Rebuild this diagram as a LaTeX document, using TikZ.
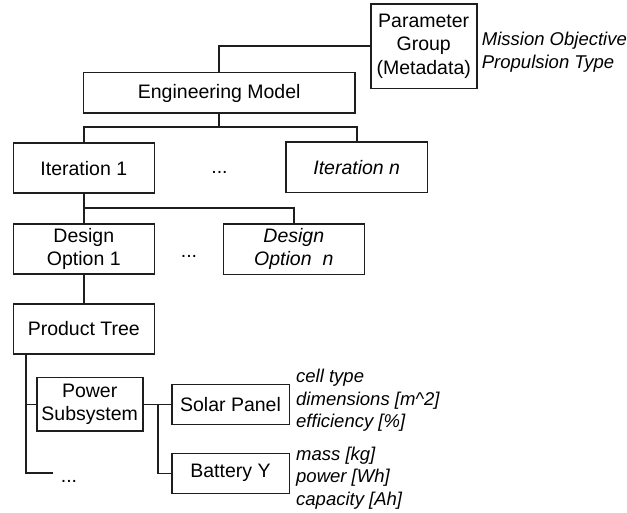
\documentclass[tikz,border=0pt]{standalone}
\usepackage{fontspec}
\setmainfont{Liberation Sans}
\definecolor{lncol}{RGB}{30,30,30}
\begin{document}
\begin{tikzpicture}[x=1pt,y=-1pt,
  ln/.style={line width=1.6pt,draw=lncol},
  box/.style={ln,rectangle,inner sep=0pt,align=center,
    font=\fontsize{19.5}{23.5}\selectfont},
  lbl/.style={inner sep=0pt,anchor=base west,align=left,
    font=\fontsize{18.5}{22.7}\selectfont\itshape},
  dots/.style={inner sep=0pt,anchor=base,font=\fontsize{19.5}{23.5}\selectfont}]
\useasboundingbox (0,0) rectangle (627,513);

% boxes
\node[box,minimum width=106pt,minimum height=84.3pt] (pg) at (423.7,46.2) {Parameter\\Group\\(Metadata)};
\node[box,minimum width=271.7pt,minimum height=40.6pt] (em) at (219.2,93) {Engineering Model};
\node[box,minimum width=141pt,minimum height=50pt] (it1) at (83.8,168.3) {Iteration 1};
\node[box,minimum width=141.3pt,minimum height=50.3pt] (itn) at (356.7,167.2) {\itshape Iteration n};
\node[box,minimum width=141pt,minimum height=50pt] (do1) at (83.8,249) {Design\\Option 1};
\node[box,minimum width=141pt,minimum height=50.3pt] (don) at (293.8,249.2) {\itshape Design\\\itshape Option\ \ n};
\node[box,minimum width=141pt,minimum height=50pt] (pt) at (83.8,329) {Product Tree};
\node[box,minimum width=106pt,minimum height=53.3pt] (ps) at (89.7,404.3) {Power\\Subsystem};
\node[box,minimum width=117.6pt,minimum height=40pt] (sp) at (230.5,404.3) {Solar Panel};
\node[box,minimum width=117.6pt,minimum height=40pt] (by) at (230.5,473.3) {Battery Y};

% labels (anchored at baseline of last line)
\node[lbl] (pgl) at (481.7,68.5) {Mission Objective\\Propulsion Type};
\node[lbl] (spl) at (296,427.7) {cell type\\dimensions [m\^{}2]\\efficiency [\%]};
\node[lbl] (byl) at (296,505.5) {mass [kg]\\power [Wh]\\capacity [Ah]};

% dots
\node[dots] (d1) at (219.5,174) {...};
\node[dots] (d2) at (189,257.5) {...};
\node[dots] (d3) at (69,482) {...};

% helper coordinates
\coordinate (b1) at (219.2,127);
\coordinate (b2) at (84,208.3);
\coordinate (tr) at (25.7,354);
\coordinate (te) at (52.7,473);
\coordinate (j) at (157.7,404.3);

% connectors
\draw[ln] (pg.west) -| (em.north);
\draw[ln] (em.south) -- (em.south |- b1);
\draw[ln] (it1.north) -- (it1.north |- b1) -| (itn.north);
\draw[ln] (it1.south) -- (do1.north);
\draw[ln] (it1.south |- b2) -| (don.north);
\draw[ln] (do1.south) -- (pt.north);
\draw[ln] (tr) |- (te);
\draw[ln] (tr |- ps.west) -- (ps.west);
\draw[ln] (ps.east) -- (sp.west);
\draw[ln] (j) |- (by.west);
\end{tikzpicture}
\end{document}
